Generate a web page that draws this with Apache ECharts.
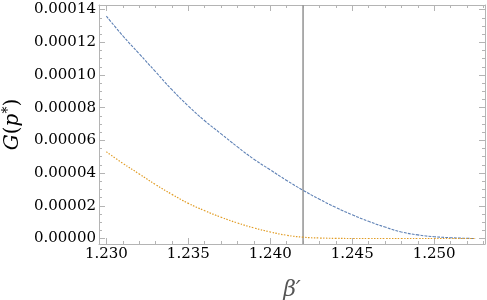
<!DOCTYPE html>
<html>
<head>
<meta charset="utf-8">
<script src="https://cdn.jsdelivr.net/npm/echarts@6/dist/echarts.min.js"></script>
<style>html,body{margin:0;padding:0;background:#fff}#c{width:487px;height:300px}</style>
</head>
<body>
<div id="c"></div>
<script>
const betaValues = [1.230,1.231,1.232,1.233,1.234,1.235,1.236,1.237,1.238,1.239,1.240,1.241,1.242,1.243,1.244,1.245,1.246,1.247,1.248,1.249,1.250,1.251,1.252,1.2525];
const blueValues = [1.36e-4,1.24e-4,1.13e-4,1.02e-4,0.91e-4,0.81e-4,0.72e-4,0.64e-4,0.56e-4,0.485e-4,0.42e-4,0.355e-4,0.295e-4,0.24e-4,0.19e-4,0.145e-4,0.105e-4,0.07e-4,0.04e-4,0.022e-4,0.011e-4,0.005e-4,0.001e-4,0];
const orangeValues = [5.3e-5,4.6e-5,3.95e-5,3.3e-5,2.7e-5,2.15e-5,1.7e-5,1.3e-5,0.95e-5,0.65e-5,0.4e-5,0.2e-5,0.08e-5,0.03e-5,0.01e-5,0,0,0,0,0,0,0,0,0];
const criticalBeta = [1.242];
const xMajorTicks = [1.230,1.235,1.240,1.245,1.250];
const xMinorTicks = [1.230,1.231,1.232,1.233,1.234,1.235,1.236,1.237,1.238,1.239,1.240,1.241,1.242,1.243,1.244,1.245,1.246,1.247,1.248,1.249,1.250,1.251,1.252,1.253];
const yMajorTicks = [0,0.00002,0.00004,0.00006,0.00008,0.00010,0.00012,0.00014];
const yMinorTicks = [0,0.000005,0.00001,0.000015,0.00002,0.000025,0.00003,0.000035,0.00004,0.000045,0.00005,0.000055,0.00006,0.000065,0.00007,0.000075,0.00008,0.000085,0.00009,0.000095,0.0001,0.000105,0.00011,0.000115,0.00012,0.000125,0.00013,0.000135,0.00014];

const X_MIN = 1.22955, X_MAX = 1.2531;
const Y_MIN = -0.00000336, Y_MAX = 0.0001428;
const axisColor = '#b4b4b4';
const SERIF = 'DejaVu Serif';
const labelFont = {fontFamily:SERIF, fontSize:15, color:'#000'};

function xAx(pos, ticks, len, showLine, showLabel, extra) {
  return Object.assign({
    type:'value', position:pos, min:X_MIN, max:X_MAX,
    axisLine:{show:showLine, onZero:false, lineStyle:{color:axisColor, width:1}},
    axisTick:{show:true, inside:true, length:len, customValues:ticks, lineStyle:{color:axisColor, width:1}},
    axisLabel:Object.assign({show:showLabel, customValues:ticks, margin:3, formatter:v=>v.toFixed(3)}, labelFont),
    splitLine:{show:false}
  }, extra||{});
}
function yAx(pos, ticks, len, showLine, showLabel, extra) {
  return Object.assign({
    type:'value', position:pos, min:Y_MIN, max:Y_MAX,
    axisLine:{show:showLine, onZero:false, lineStyle:{color:axisColor, width:1}},
    axisTick:{show:true, inside:true, length:len, customValues:ticks, lineStyle:{color:axisColor, width:1}},
    axisLabel:Object.assign({show:showLabel, customValues:ticks, margin:3, formatter:v=>v.toFixed(5)}, labelFont),
    splitLine:{show:false}
  }, extra||{});
}

const chart = echarts.init(document.getElementById('c'), null, {renderer:'canvas'});
chart.setOption({
  animation:false,
  grid:{left:99, right:2, top:5, bottom:56, containLabel:false, outerBoundsMode:'none'},
  xAxis:[
    xAx('bottom', xMajorTicks, 6, true, true, {
      name:'β′', nameLocation:'middle', nameGap:35,
      nameTextStyle:{fontFamily:SERIF, fontSize:22, fontStyle:'italic', color:'#555'}
    }),
    xAx('bottom', xMinorTicks, 3, false, false),
    xAx('top', xMajorTicks, 6, true, false),
    xAx('top', xMinorTicks, 3, false, false)
  ],
  yAxis:[
    yAx('left', yMajorTicks, 6, true, true, {
      name:'{i|G}{n|(}{i|p}{s|*}{n|)}', nameLocation:'middle', nameGap:76, nameRotate:90,
      nameTextStyle:{fontFamily:SERIF, fontSize:20, color:'#000',
        rich:{i:{fontFamily:SERIF, fontSize:20, fontStyle:'italic', color:'#000', lineHeight:22, verticalAlign:'bottom'},
              n:{fontFamily:SERIF, fontSize:20, color:'#000', lineHeight:22, verticalAlign:'bottom'},
              s:{fontFamily:SERIF, fontSize:14, color:'#000', lineHeight:22, verticalAlign:'top'}}}
    }),
    yAx('left', yMinorTicks, 3, false, false),
    yAx('right', yMajorTicks, 6, true, false),
    yAx('right', yMinorTicks, 3, false, false)
  ],
  series:[
    {
      type:'line', xAxisIndex:0, yAxisIndex:0, showSymbol:false, symbol:'none', silent:true,
      data:[[criticalBeta[0], Y_MIN], [criticalBeta[0], Y_MAX]],
      lineStyle:{color:'#999', width:1.6, type:'solid'}
    },
    {
      type:'line', xAxisIndex:0, yAxisIndex:0, showSymbol:false, symbol:'none', smooth:true,
      data:betaValues.map((b,i)=>[b, blueValues[i]]),
      lineStyle:{color:'#5E81B5', width:1.1, type:[3,1.2]}
    },
    {
      type:'line', xAxisIndex:0, yAxisIndex:0, showSymbol:false, symbol:'none', smooth:true,
      data:betaValues.map((b,i)=>[b, orangeValues[i]]),
      lineStyle:{color:'#E19C24', width:1.2, type:[1.5,1.5]}
    }
  ]
});
</script>
</body>
</html>
